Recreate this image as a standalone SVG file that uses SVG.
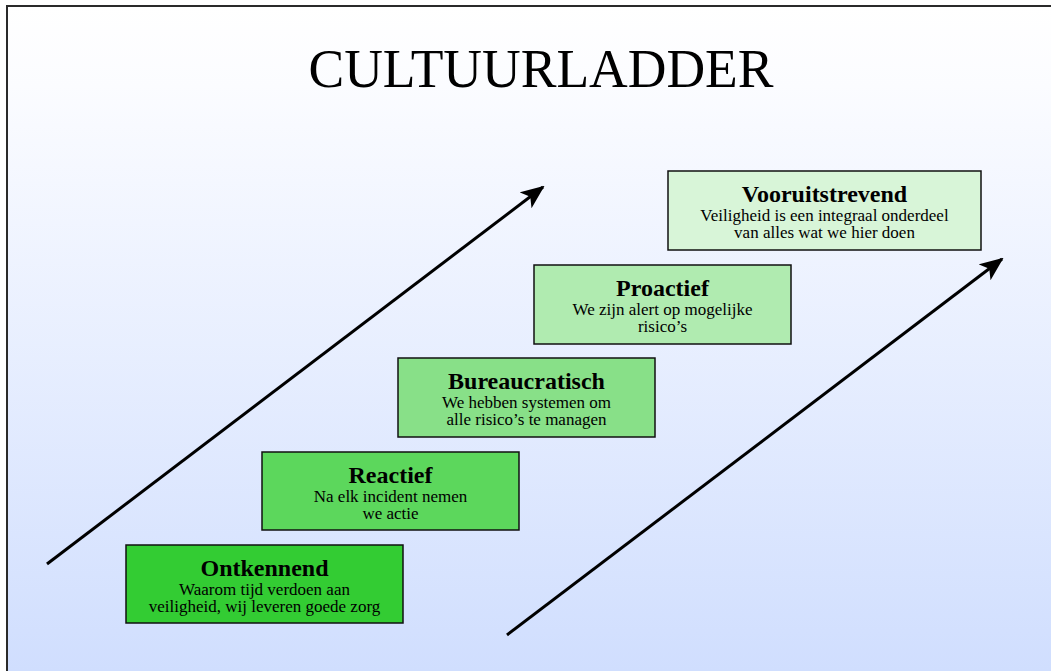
<svg xmlns="http://www.w3.org/2000/svg" width="1051" height="671" viewBox="0 0 1051 671">
  <defs>
    <linearGradient id="bg" x1="0" y1="0" x2="0" y2="1">
      <stop offset="0" stop-color="#ffffff"/>
      <stop offset="0.12" stop-color="#fbfcff"/>
      <stop offset="1" stop-color="#d0defe"/>
    </linearGradient>
    <marker id="head" viewBox="0 0 24 20" markerWidth="24" markerHeight="20" refX="22" refY="10" orient="auto" markerUnits="userSpaceOnUse">
      <path d="M0,0 L24,10 L0,20 L6,10 Z" fill="#000"/>
    </marker>
    <style>
      .step { stroke: #111; stroke-width: 1.5; }
      .title { font-family: "Liberation Serif", "Times New Roman", serif; font-weight: bold; font-size: 24px; text-anchor: middle; fill: #000; }
      .desc { font-family: "Liberation Serif", "Times New Roman", serif; font-size: 17px; text-anchor: middle; fill: #000; }
      .arrow { stroke: #000; stroke-width: 3; fill: none; marker-end: url(#head); }
    </style>
  </defs>

  <!-- slide background and frame -->
  <rect x="0" y="0" width="1051" height="671" fill="#ffffff"/>
  <rect x="7" y="6" width="1044" height="665" fill="url(#bg)"/>
  <path d="M7,671 V6 H1051" fill="none" stroke="#2a2a2a" stroke-width="2"/>

  <text x="541" y="87" font-family="Liberation Serif, Times New Roman, serif" font-size="55" text-anchor="middle" textLength="465" lengthAdjust="spacingAndGlyphs">CULTUURLADDER</text>

  <g id="connectors">
    <line class="arrow" x1="47" y1="564" x2="543" y2="187"/>
    <line class="arrow" x1="507" y1="635" x2="1002" y2="259"/>
  </g>

  <g id="ontkennend">
    <rect class="step" x="126" y="545" width="277" height="78" fill="#33cc33"/>
    <text class="title" x="264.5" y="576">Ontkennend</text>
    <text class="desc" x="264.5" y="595">Waarom tijd verdoen aan</text>
    <text class="desc" x="264.5" y="612">veiligheid, wij leveren goede zorg</text>
  </g>

  <g id="reactief">
    <rect class="step" x="262" y="452" width="257" height="78" fill="#5cd75c"/>
    <text class="title" x="390.5" y="483">Reactief</text>
    <text class="desc" x="390.5" y="502">Na elk incident nemen</text>
    <text class="desc" x="390.5" y="519">we actie</text>
  </g>

  <g id="bureaucratisch">
    <rect class="step" x="398" y="358" width="257" height="79" fill="#88e088"/>
    <text class="title" x="526.5" y="389">Bureaucratisch</text>
    <text class="desc" x="526.5" y="408">We hebben systemen om</text>
    <text class="desc" x="526.5" y="425">alle risico’s te managen</text>
  </g>

  <g id="proactief">
    <rect class="step" x="534" y="265" width="257" height="79" fill="#b0ebb0"/>
    <text class="title" x="662.5" y="296">Proactief</text>
    <text class="desc" x="662.5" y="315">We zijn alert op mogelijke</text>
    <text class="desc" x="662.5" y="332">risico’s</text>
  </g>

  <g id="vooruitstrevend">
    <rect class="step" x="668" y="171" width="313" height="79" fill="#d8f5d8"/>
    <text class="title" x="824.5" y="202">Vooruitstrevend</text>
    <text class="desc" x="824.5" y="221">Veiligheid is een integraal onderdeel</text>
    <text class="desc" x="824.5" y="238">van alles wat we hier doen</text>
  </g>
</svg>
